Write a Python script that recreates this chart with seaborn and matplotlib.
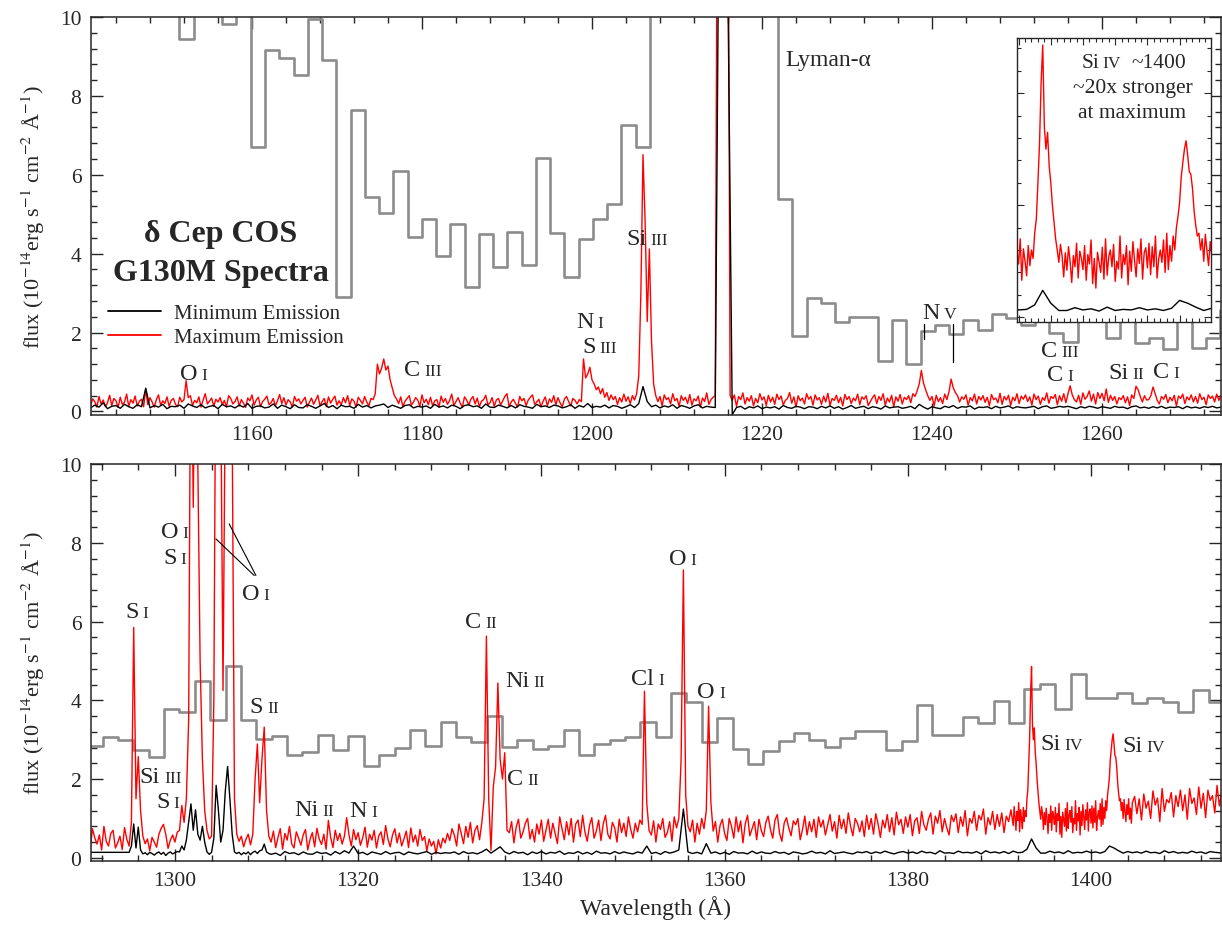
import numpy as np
import seaborn as sns
import matplotlib.pyplot as plt
from matplotlib.ticker import MultipleLocator

# ---------------- top panel (1141-1274 A) ----------------
# flux values in units of 0.01 (1e-16 erg/s/cm2/A)
red_top_start, red_top_step = 1141.0, 0.25
red_top = [
    [14, 32, 25, 11, 38, 19, 29, 12, 22, 41, 15, 33, 27, 10, 36, 18, 23, 44, 13, 30],
    [21, 39, 14, 26, 31, 12, 55, 17, 35, 24, 11, 30, 42, 16, 27, 20, 37, 13, 28, 33],
    [18, 12, 36, 24, 30, 78, 35, 40, 15, 28, 22, 37, 11, 29, 45, 19, 26, 34, 13, 31],
    [24, 35, 17, 28, 11, 40, 33, 19, 25, 37, 14, 30, 21, 10, 34, 27, 42, 16, 29, 36],
    [12, 25, 31, 39, 17, 22, 33, 14, 27, 43, 20, 35, 16, 30, 24, 11, 38, 26, 32, 19],
    [28, 36, 11, 23, 34, 18, 29, 41, 14, 25, 33, 12, 37, 21, 31, 39, 16, 27, 17, 35],
    [22, 40, 15, 32, 26, 11, 36, 28, 19, 38, 24, 14, 33, 30, 45, 120, 95, 110, 133, 105],
    [115, 80, 60, 40, 32, 20, 37, 12, 26, 33, 40, 16, 24, 35, 29, 13, 42, 22, 31, 17],
    [36, 14, 27, 30, 11, 39, 23, 33, 18, 28, 44, 15, 25, 35, 21, 11, 37, 29, 16, 31],
    [38, 19, 34, 12, 26, 30, 41, 17, 22, 35, 13, 29, 33, 16, 27, 38, 45, 12, 24, 31],
    [20, 11, 38, 27, 33, 15, 29, 36, 42, 18, 24, 31, 12, 26, 37, 14, 32, 23, 40, 17],
    [35, 22, 12, 31, 38, 25, 14, 33, 28, 19, 30, 25, 133, 85, 95, 112, 80, 70, 55, 62],
    [45, 58, 36, 48, 28, 42, 30, 38, 18, 35, 24, 44, 26, 37, 20, 40, 29, 45, 90, 300],
    [651, 480, 228, 412, 180, 70, 40, 25, 38, 14, 42, 30, 35, 19, 45, 27, 33, 13, 40, 28],
    [36, 20, 43, 16, 32, 27, 39, 11, 34, 25, 47, 18, 30, 36, 40, 1500, 1500, 1500, 1500, 1500],
    [1500, 40, 28, 42, 13, 38, 30, 47, 19, 35, 26, 40, 14, 33, 22, 45, 29, 37, 15, 41],
    [24, 36, 18, 44, 30, 39, 16, 28, 33, 48, 21, 37, 11, 40, 27, 34, 19, 45, 31, 38],
    [16, 42, 29, 35, 18, 39, 24, 46, 15, 33, 28, 41, 22, 36, 14, 43, 30, 38, 20, 34],
    [27, 44, 17, 37, 31, 40, 15, 25, 35, 42, 20, 38, 28, 45, 16, 34, 24, 41, 12, 37],
    [26, 43, 19, 36, 30, 40, 22, 45, 38, 52, 70, 104, 72, 55, 40, 28, 38, 14, 41, 25],
    [35, 20, 44, 30, 50, 82, 60, 48, 40, 24, 37, 31, 42, 16, 35, 27, 44, 19, 38, 29],
    [40, 23, 36, 14, 43, 30, 34, 22, 46, 18, 38, 29, 41, 15, 36, 27, 45, 20, 39, 31],
    [42, 25, 37, 16, 44, 30, 39, 18, 35, 28, 47, 21, 38, 33, 43, 17, 40, 26, 45, 22],
    [45, 65, 42, 30, 24, 41, 18, 47, 31, 38, 52, 26, 44, 19, 48, 33, 46, 27, 57, 23],
    [41, 28, 38, 19, 35, 30, 40, 22, 37, 15, 42, 33, 64, 55, 38, 24, 40, 29, 30, 40],
    [62, 45, 28, 19, 38, 31, 43, 22, 36, 27, 41, 14, 39, 33, 44, 20, 37, 29, 42, 24],
    [38, 21, 45, 30, 36, 17, 42, 33, 39, 24, 44, 28, 40],
]

black_top_start, black_top_step = 1141.0, 0.5
black_top = [
    [9, 16, 11, 22, 7, 13, 15, 8, 18, 12],
    [8, 17, 12, 59, 9, 15, 11, 18, 7, 13],
    [12, 16, 8, 19, 14, 10, 17, 9, 13, 15],
    [7, 18, 12, 14, 9, 16, 11, 20, 8, 13],
    [14, 9, 11, 19, 8, 16, 12, 7, 17, 10],
    [9, 17, 13, 8, 14, 20, 10, 15, 7, 16],
    [12, 13, 8, 18, 11, 15, 9, 14, 16, 19],
    [10, 16, 12, 8, 15, 17, 9, 13, 11, 14],
    [8, 18, 11, 14, 9, 16, 13, 7, 15, 17],
    [12, 14, 8, 19, 11, 10, 16, 13, 9, 15],
    [9, 17, 13, 11, 8, 18, 12, 14, 10, 16],
    [14, 9, 12, 17, 8, 15, 11, 20, 10, 13],
    [11, 16, 9, 15, 13, 8, 12, 17, 10, 20],
    [63, 25, 12, 16, 9, 14, 11, 17, 8, 15],
    [12, 8, 14, 17, 9, 13, 11, 10, 1500, 1500],
    [1050, -8, 10, 13, 6, 12, 9, 14, 7, 11],
    [9, 12, 6, 15, 10, 8, 13, 11, 7, 12],
    [11, 7, 13, 9, 14, 8, 12, 6, 10, 15],
    [8, 11, 13, 7, 12, 10, 6, 14, 9, 11],
    [12, 8, 10, 13, 7, 18, 11, 6, 12, 9],
    [7, 13, 10, 15, 8, 12, 11, 14, 6, 11],
    [10, 12, 7, 13, 9, 11, 14, 8, 12, 10],
    [9, 11, 13, 7, 12, 14, 8, 10, 13, 11],
    [13, 10, 7, 12, 9, 13, 11, 8, 12, 10],
    [8, 13, 10, 11, 7, 12, 14, 9, 11, 8],
    [12, 9, 13, 8, 11, 10, 12, 7, 13, 9],
    [11, 8, 12, 10, 13, 9, 11],
]

# low-resolution comparison spectrum (grey histogram), 12 = off scale
gray_top_start, gray_bin = 1139.73, 1.677
gray_top = [12, 12, 12, 12, 12, 12, 12, 9.45, 12, 12, 9.82, 12,
            6.71, 9.16, 8.96, 8.54, 9.94, 8.92, 2.90, 7.64, 5.44, 5.03,
            6.10, 4.42, 4.89, 3.93, 4.76, 3.15, 4.50, 3.67, 4.55, 3.72,
            6.43, 4.53, 3.41, 4.36, 4.87, 5.25, 7.27, 6.71,
            12, 12, 12, 12, 12, 12, 12, 12, 12,
            5.39, 1.91, 2.88, 2.75, 2.28, 2.39, 2.39, 1.29, 2.33, 1.21,
            2.03, 2.18, 1.97, 2.33, 2.07, 2.47, 2.37, 2.18, 2.35, 2.00,
            1.77, 2.35, 2.30, 1.86, 2.35, 1.73, 1.86, 1.59, 2.35, 1.61,
            1.87, 2.58]

# ---------------- bottom panel (1291-1414 A) ----------------
red_bot_start, red_bot_step = 1290.0, 0.25
red_bot = [
    [28, 66, 45, 22, 74, 51, 35, 58, 20, 80, 42, 30, 62, 70, 25, 38, 55, 21, 77, 47],
    [30, 90, 585, 150, 257, 120, 55, 36, 48, 18, 52, 40, 27, 60, 75, 85, 60, 24, 45, 58],
    [40, 65, 70, 133, 90, 150, 350, 1500, 890, 1500, 1000, 500, 250, 120, 70, 48, 55, 400, 1500, 1500],
    [1200, 425, 1200, 1500, 1500, 1100, 150, 60, 42, 55, 28, 47, 60, 33, 60, 200, 289, 140, 250, 332],
    [120, 55, 40, 68, 26, 52, 74, 22, 62, 45, 80, 35, 25, 66, 50, 32, 58, 72, 20, 47],
    [64, 28, 75, 48, 34, 60, 22, 95, 52, 26, 70, 44, 62, 35, 55, 102, 58, 30, 72, 46],
    [64, 32, 51, 78, 27, 60, 45, 70, 25, 56, 66, 34, 82, 48, 28, 58, 74, 38, 63, 30],
    [48, 68, 26, 76, 40, 58, 30, 72, 44, 54, 18, 48, 30, 42, 10, 46, 25, 50, 38, 62],
    [44, 74, 58, 30, 86, 62, 36, 80, 52, 90, 38, 70, 82, 46, 90, 150, 563, 150, 19, 180],
    [230, 444, 250, 200, 267, 70, 64, 92, 38, 78, 98, 50, 66, 88, 100, 48, 72, 40, 86, 60],
    [96, 42, 70, 98, 50, 88, 62, 36, 104, 74, 46, 92, 58, 100, 40, 86, 96, 54, 108, 66],
    [42, 82, 102, 50, 68, 96, 44, 86, 108, 60, 48, 90, 76, 40, 98, 64, 88, 54, 104, 72],
    [50, 88, 66, 96, 85, 423, 140, 70, 58, 94, 40, 86, 72, 100, 52, 64, 92, 42, 104, 76],
    [100, 250, 731, 160, 80, 66, 96, 40, 88, 60, 100, 74, 120, 385, 140, 68, 92, 40, 82, 98],
    [62, 44, 100, 80, 50, 104, 66, 94, 38, 86, 108, 56, 74, 92, 46, 98, 70, 54, 90, 106],
    [72, 50, 96, 110, 62, 42, 88, 102, 76, 56, 94, 84, 100, 46, 72, 106, 58, 92, 66, 98],
    [52, 104, 78, 96, 58, 84, 110, 68, 92, 50, 108, 74, 98, 62, 114, 80, 56, 100, 88, 66],
    [94, 54, 108, 72, 100, 60, 112, 86, 52, 96, 76, 110, 66, 102, 58, 116, 84, 98, 62, 104],
    [78, 110, 56, 94, 102, 62, 118, 84, 70, 98, 114, 60, 106, 88, 120, 66, 100, 76, 58, 108],
    [92, 112, 64, 104, 80, 120, 56, 100, 88, 118, 70, 108, 96, 124, 60, 102, 84, 118, 72, 110],
    [80, 114, 64, 106, 92, 122, 70, 104, 88, 120, 100, 140, 200, 330, 486, 300, 250, 200, 150, 120],
    [96, 128, 74, 120, 100, 140, 82, 118, 106, 136, 70, 124, 94, 142, 80, 120, 110, 138, 76, 130],
    [102, 126, 82, 140, 96, 122, 112, 134, 150, 230, 315, 250, 180, 130, 110, 150, 94, 140, 118, 156],
    [112, 150, 96, 162, 126, 144, 100, 170, 134, 152, 92, 176, 118, 148, 140, 166, 104, 158, 130, 172],
    [120, 160, 98, 176, 138, 152, 110, 180, 126, 164, 102, 172, 146, 158, 114, 184, 132, 166, 108, 178],
]
# Si IV doublet, read at finer sampling from the inset
red_siiv_start, red_siiv_step = 1391.5, 0.1
red_siiv = [
    [82, 130, 105, 70, 118, 95, 140, 66, 122, 100],
    [74, 128, 92, 120, 105, 150, 175, 240, 310, 420],
    [486, 340, 300, 330, 270, 240, 200, 170, 140, 120],
    [98, 130, 110, 72, 115, 84, 126, 100, 62, 110],
    [90, 132, 70, 118, 105, 85, 128, 66, 112, 95],
    [138, 60, 105, 52, 116, 98, 80, 125, 68, 140],
    [75, 108, 120, 90, 130, 64, 100, 86, 145, 70],
    [112, 94, 128, 58, 118, 82, 135, 102, 72, 122],
    [96, 140, 68, 115, 124, 88, 132, 76, 126, 90],
    [145, 70, 104, 120, 98, 138, 80, 150, 85, 128],
    [100, 145, 120, 160, 180, 205, 250, 276, 300, 315],
    [290, 260, 255, 230, 190, 165, 145, 150, 120, 140],
    [100, 148, 118, 92, 135, 110, 150, 98, 126, 88],
    [140],
]

black_bot_start, black_bot_step = 1290.0, 0.5
black_bot = [
    [14, 14, 14, 14, 14, 14, 14, 14, 14, 14],
    [14, 86, 78, 12, 8, 11, 9, 13, 10, 8],
    [11, 15, 20, 90, 70, 60, 80, 15, 12, 184],
    [40, 170, 150, 15, 12, 11, 10, 9, 15, 20],
    [15, 9, 12, 6, 16, 11, 13, 8, 15, 10],
    [9, 15, 11, 13, 7, 16, 10, 18, 12, 30],
    [11, 14, 8, 15, 12, 9, 16, 10, 13, 14],
    [8, 15, 12, 10, 13, 16, 9, 14, 11, 13],
    [12, 15, 9, 16, 11, 13, 10, 15, 22, 12],
    [20, 28, 15, 10, 16, 12, 14, 8, 15, 11],
    [16, 10, 14, 12, 17, 9, 13, 11, 16, 10],
    [14, 9, 17, 12, 13, 10, 16, 11, 15, 12],
    [10, 15, 12, 30, 11, 14, 9, 16, 12, 15],
    [20, 124, 15, 11, 14, 10, 36, 12, 15, 10],
    [14, 9, 16, 12, 13, 10, 17, 11, 15, 12],
    [11, 16, 12, 14, 9, 15, 13, 10, 12, 17],
    [12, 14, 10, 18, 11, 13, 15, 12, 10, 15],
    [13, 16, 11, 15, 12, 17, 13, 10, 14, 16],
    [12, 15, 11, 17, 13, 14, 10, 18, 12, 13],
    [11, 17, 13, 14, 12, 16, 10, 18, 13, 15],
    [12, 16, 11, 17, 13, 14, 22, 48, 25, 12],
    [12, 17, 13, 15, 11, 18, 12, 14, 13, 17],
    [13, 15, 12, 16, 30, 25, 18, 12, 16, 13],
    [15, 12, 17, 13, 14, 11, 18, 13, 16, 12],
    [14, 12, 17, 13, 15, 11, 16, 14, 13, 12],
]
# finer sampling of the minimum spectrum around the O I / S I blend
black_bot_fine_start, black_bot_fine_step = 1295.0, 0.25
black_bot_fine = [
    [14, 30, 86, 25, 78, 20, 10, 13, 8, 14, 11, 7, 12, 15, 9, 14, 6, 12, 15, 10],
    [13, 16, 15, 30, 20, 45, 90, 137, 70, 122, 60, 45, 80, 40, 15, 9, 14, 50, 184, 120],
    [40, 70, 170, 232, 150, 60, 15, 11, 14, 8, 13, 10, 15, 8, 14, 17, 11, 18, 20, 35],
    [15, 11],
]

gray_bot_start = 1290.43
gray_bot = [2.85, 3.08, 2.99, 2.75, 2.56, 3.78, 3.71, 4.48, 3.49, 4.87, 3.49,
            3.02, 3.09, 2.60, 2.70, 3.12, 2.74, 3.10, 2.34, 2.60, 2.79,
            3.25, 2.83, 3.46, 3.06, 2.94, 3.61, 2.81, 3.00, 2.77, 2.83,
            3.25, 2.61, 2.88, 3.00, 3.06, 3.44, 3.06, 4.19, 3.95, 2.94,
            3.55, 2.77, 2.39, 2.72, 2.96, 3.16,
            2.98, 2.81, 3.04, 3.21, 3.21, 2.75, 2.96, 3.87, 3.13, 3.11,
            3.57, 3.43, 3.98, 3.42, 4.29, 4.42, 3.78, 4.67, 4.05, 4.06,
            4.19, 3.93, 4.06, 3.95, 3.70, 4.25, 3.95]

# line identifications: (wavelength, flux, element, ionisation stage)
top_labels = [
    (1153.85, 0.82, "O", "I"), (1180.06, 0.93, "C", "III"),
    (1200.41, 2.15, "N", "I"), (1200.65, 1.50, "S", "III"),
    (1206.63, 4.25, "Si", "III"), (1241.18, 2.37, "N", "V"),
    (1254.98, 1.40, "C", "III"), (1255.65, 0.80, "C", "I"),
    (1263.37, 0.85, "Si", "II"), (1268.20, 0.87, "C", "I"),
]
bot_labels = [
    (1300.58, 8.14, "O", "I"), (1300.40, 7.48, "S", "I"),
    (1309.46, 6.56, "O", "I"), (1296.26, 6.12, "S", "I"),
    (1298.58, 1.92, "Si", "III"), (1299.64, 1.29, "S", "I"),
    (1309.82, 3.70, "S", "II"), (1315.89, 1.10, "Ni", "II"),
    (1321.20, 1.07, "N", "I"), (1333.67, 5.85, "C", "II"),
    (1338.91, 4.36, "Ni", "II"), (1338.25, 1.88, "C", "II"),
    (1352.55, 4.42, "Cl", "I"), (1356.03, 7.46, "O", "I"),
    (1359.16, 4.08, "O", "I"), (1396.90, 2.77, "Si", "IV"),
    (1405.82, 2.72, "Si", "IV"),
]


def spectrum(start, step, rows):
    flux = np.concatenate([np.asarray(r, float) for r in rows]) / 100.0
    return start + step * np.arange(flux.size), flux


def splice(base, fine):
    bw, bf = base
    fw, ff = fine
    keep = (bw < fw[0]) | (bw > fw[-1])
    w = np.concatenate([bw[keep], fw])
    f = np.concatenate([bf[keep], ff])
    o = np.argsort(w)
    return w[o], f[o]


def histo(start, width, vals):
    v = np.asarray(vals, float)
    return start + width * np.arange(v.size + 1), np.append(v, v[-1])


def draw(ax, gray, red, black, legend):
    if gray is not None:
        sns.lineplot(x=gray[0], y=gray[1], ax=ax, color="#8c8c8c", lw=1.9,
                     drawstyle="steps-post", estimator=None, sort=False, legend=False)
    kw = dict(ax=ax, estimator=None, sort=False)
    if legend:
        sns.lineplot(x=red[0], y=red[1], color="red", lw=1.0, label="Maximum Emission", **kw)
        sns.lineplot(x=black[0], y=black[1], color="black", lw=1.0, label="Minimum Emission", **kw)
    else:
        sns.lineplot(x=red[0], y=red[1], color="red", lw=1.0, legend=False, **kw)
        sns.lineplot(x=black[0], y=black[1], color="black", lw=1.0, legend=False, **kw)


def style(ax, xlim, ylim):
    ax.set_xlim(*xlim)
    ax.set_ylim(*ylim)
    ax.xaxis.set_major_locator(MultipleLocator(20))
    ax.xaxis.set_minor_locator(MultipleLocator(4))
    ax.yaxis.set_major_locator(MultipleLocator(2))
    ax.yaxis.set_minor_locator(MultipleLocator(0.4))
    ax.tick_params(which="both", direction="in", top=True, right=True, width=1.0,
                   labelsize=15.5)
    ax.tick_params(which="major", length=8.5, pad=7)
    ax.tick_params(which="minor", length=4.3)
    for s in ax.spines.values():
        s.set_linewidth(1.1)
    ax.set_xlabel("")
    ax.set_ylabel("flux (10$^{-14}$erg s$^{-1}$ cm$^{-2}$ Å$^{-1}$)", fontsize=16, labelpad=9)


def ion_label(ax, x, y, el, ion, size=17.5, **kw):
    ax.annotate(el, (x, y), xytext=(-1.5, 0), textcoords="offset points",
                ha="right", va="baseline", fontsize=size, **kw)
    ax.annotate(ion, (x, y), xytext=(1.5, 0), textcoords="offset points",
                ha="left", va="baseline", fontsize=size * 0.72, **kw)


sns.set_style("ticks")
plt.rcParams["font.family"] = ["Liberation Serif", "DejaVu Serif"]
plt.rcParams["mathtext.fontset"] = "stix"

red_t = spectrum(red_top_start, red_top_step, red_top)
black_t = spectrum(black_top_start, black_top_step, black_top)
gray_t = histo(gray_top_start, gray_bin, gray_top)
red_b = splice(spectrum(red_bot_start, red_bot_step, red_bot),
               spectrum(red_siiv_start, red_siiv_step, red_siiv))
black_b = splice(spectrum(black_bot_start, black_bot_step, black_bot),
                 spectrum(black_bot_fine_start, black_bot_fine_step, black_bot_fine))
gray_b = histo(gray_bot_start, gray_bin, gray_bot)

W, H = 1222, 928
fig = plt.figure(figsize=(W / 100, H / 100), dpi=100)
ax1 = fig.add_axes([91 / W, 1 - 416 / H, 1130 / W, 398 / H])
ax2 = fig.add_axes([91 / W, 1 - 862 / H, 1130 / W, 397 / H])

# top panel
draw(ax1, gray_t, red_t, black_t, legend=True)
style(ax1, (1141.06, 1274.0), (-0.09, 10))
h, l = ax1.get_legend_handles_labels()
d = dict(zip(l, h))
leg = ax1.legend([d["Minimum Emission"], d["Maximum Emission"]],
                 ["Minimum Emission", "Maximum Emission"], loc="upper left",
                 bbox_to_anchor=(0.015, 0.28), frameon=False, fontsize=15,
                 handlelength=2.55, handletextpad=0.6, borderpad=0,
                 borderaxespad=0, labelspacing=0.2)
for ln in leg.get_lines():
    ln.set_linewidth(1.3)
ax1.text(1156.3, 4.32, "δ Cep COS", ha="center", va="baseline", fontsize=23, fontweight="bold")
ax1.text(1156.3, 3.34, "G130M Spectra", ha="center", va="baseline", fontsize=23, fontweight="bold")
ax1.text(1222.7, 8.78, "Lyman-α", ha="left", va="baseline", fontsize=17)
for x, y, el, ion in top_labels:
    ion_label(ax1, x, y, el, ion)
ax1.plot([1239.06, 1239.06], [1.84, 2.22], color="black", lw=0.9)
ax1.plot([1242.5, 1242.5], [1.26, 2.22], color="black", lw=0.9)

# bottom panel
draw(ax2, gray_b, red_b, black_b, legend=False)
style(ax2, (1290.84, 1414.18), (-0.08, 10))
ax2.set_xlabel("Wavelength (Å)", fontsize=17, labelpad=4)
for x, y, el, ion in bot_labels:
    ion_label(ax2, x, y, el, ion)
ax2.plot([1304.47, 1308.65], [8.10, 7.17], color="black", lw=0.8)
ax2.plot([1305.92, 1308.84], [8.48, 7.17], color="black", lw=0.8)

# inset: Si IV doublet of the bottom spectra
ax3 = fig.add_axes([1017.3 / W, 1 - 322.7 / H, 193.7 / W, 283.4 / H])
ax3.set_facecolor("white")
draw(ax3, None, red_b, black_b, legend=False)
ax3.set_xlim(1391.92, 1403.95)
ax3.set_ylim(-0.08, 4.98)
ax3.xaxis.set_major_locator(MultipleLocator(2))
ax3.xaxis.set_minor_locator(MultipleLocator(0.4))
ax3.yaxis.set_major_locator(MultipleLocator(2))
ax3.yaxis.set_minor_locator(MultipleLocator(0.4))
ax3.tick_params(which="both", direction="in", top=True, right=True, width=0.8,
                labelbottom=False, labelleft=False)
ax3.tick_params(which="major", length=5)
ax3.tick_params(which="minor", length=3)
ax3.set_xlabel("")
ax3.set_ylabel("")
for s in ax3.spines.values():
    s.set_linewidth(1.0)
ax3.text(0.426, 0.898, "Si", transform=ax3.transAxes, ha="right", va="baseline", fontsize=15.5)
ax3.text(0.437, 0.898, "IV", transform=ax3.transAxes, ha="left", va="baseline", fontsize=12.5)
ax3.text(0.591, 0.898, "~1400", transform=ax3.transAxes, ha="left", va="baseline", fontsize=15.5)
ax3.text(0.595, 0.809, "~20x stronger", transform=ax3.transAxes, ha="center", va="baseline", fontsize=15.5)
ax3.text(0.595, 0.721, "at maximum", transform=ax3.transAxes, ha="center", va="baseline", fontsize=15.5)

fig.savefig("out.png", dpi=100)
